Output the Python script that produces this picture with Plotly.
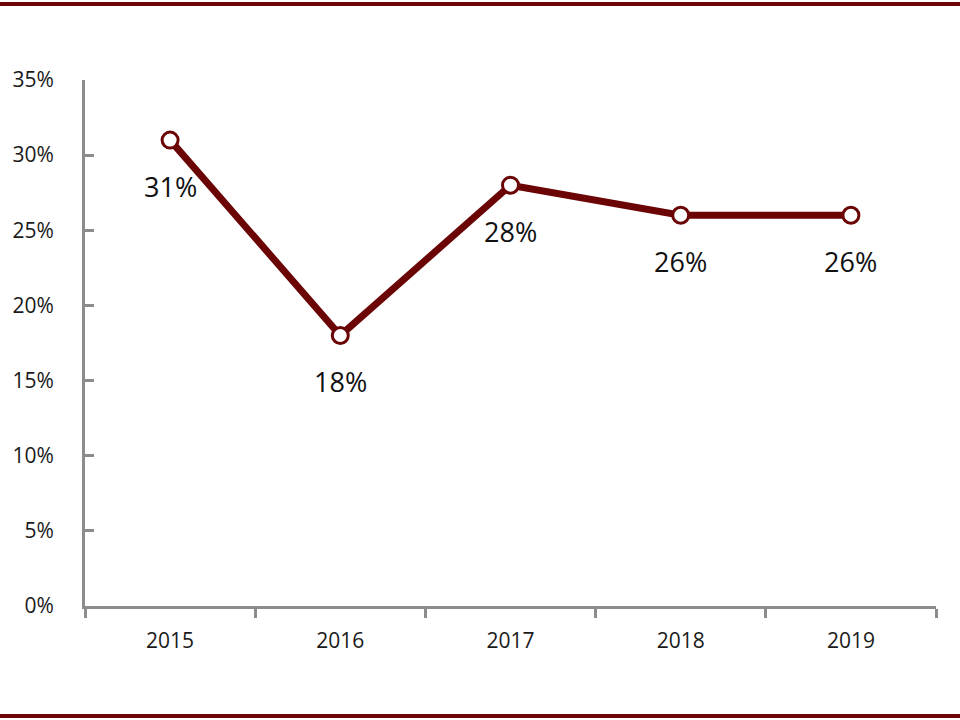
import plotly.graph_objects as go

years = ["2015", "2016", "2017", "2018", "2019"]
values = [0.31, 0.18, 0.28, 0.26, 0.26]
labels = ["31%", "18%", "28%", "26%", "26%"]
y_ticks = [0, 0.05, 0.10, 0.15, 0.20, 0.25, 0.30, 0.35]
y_tick_text = ["0%", "5%", "10%", "15%", "20%", "25%", "30%", "35%"]

MAROON = "#6b0505"
GRAY = "#8c8c8c"
FONT = "Open Sans"

fig = go.Figure()
fig.add_trace(go.Scatter(
    x=years, y=values, mode="lines+markers",
    line=dict(color=MAROON, width=7),
    marker=dict(size=16, color="white", line=dict(color=MAROON, width=3)),
    cliponaxis=False, showlegend=False, hoverinfo="skip",
))

for i, (yv, t) in enumerate(zip(values, labels)):
    fig.add_annotation(x=i, y=yv, xref="x", yref="y", text=t, showarrow=False, yshift=-46,
                       font=dict(family=FONT, size=27, color="#111111"))

L, R, T, B = 85, 24, 80, 114
W, H = 960, 720
pw, ph = W - L - R, H - T - B

def py(y):
    return (H - B - y) / ph

def px(x):
    return (x - L) / pw

fig.add_shape(type="line", xref="paper", yref="paper", x0=px(0), x1=px(W), y0=py(4), y1=py(4),
              line=dict(color=MAROON, width=4))
fig.add_shape(type="line", xref="paper", yref="paper", x0=px(0), x1=px(W), y0=py(716), y1=py(716),
              line=dict(color=MAROON, width=4))

fig.update_layout(
    width=W, height=H,
    margin=dict(l=L, r=R, t=T, b=B),
    paper_bgcolor="white", plot_bgcolor="white",
    font=dict(family=FONT, color="#1a1a1a"),
    xaxis=dict(type="category", range=[-0.5, 4.5], showline=True, linecolor=GRAY, linewidth=3,
               ticks="outside", ticklen=9, tickwidth=3, tickcolor=GRAY, tickson="boundaries",
               showgrid=False, zeroline=False, tickfont=dict(size=21, family=FONT),
               ticklabelstandoff=14),
    yaxis=dict(range=[0, 0.35], tickvals=y_ticks, ticktext=y_tick_text, showline=True,
               linecolor=GRAY, linewidth=3, ticks="inside", ticklen=9, tickwidth=3, tickcolor=GRAY,
               showgrid=False, zeroline=False, tickfont=dict(size=21, family=FONT),
               ticklabelstandoff=24),
)

fig.write_html("out.html", config={"displayModeBar": False},
               post_script="document.body.style.margin='0';document.body.style.overflow='hidden';")
